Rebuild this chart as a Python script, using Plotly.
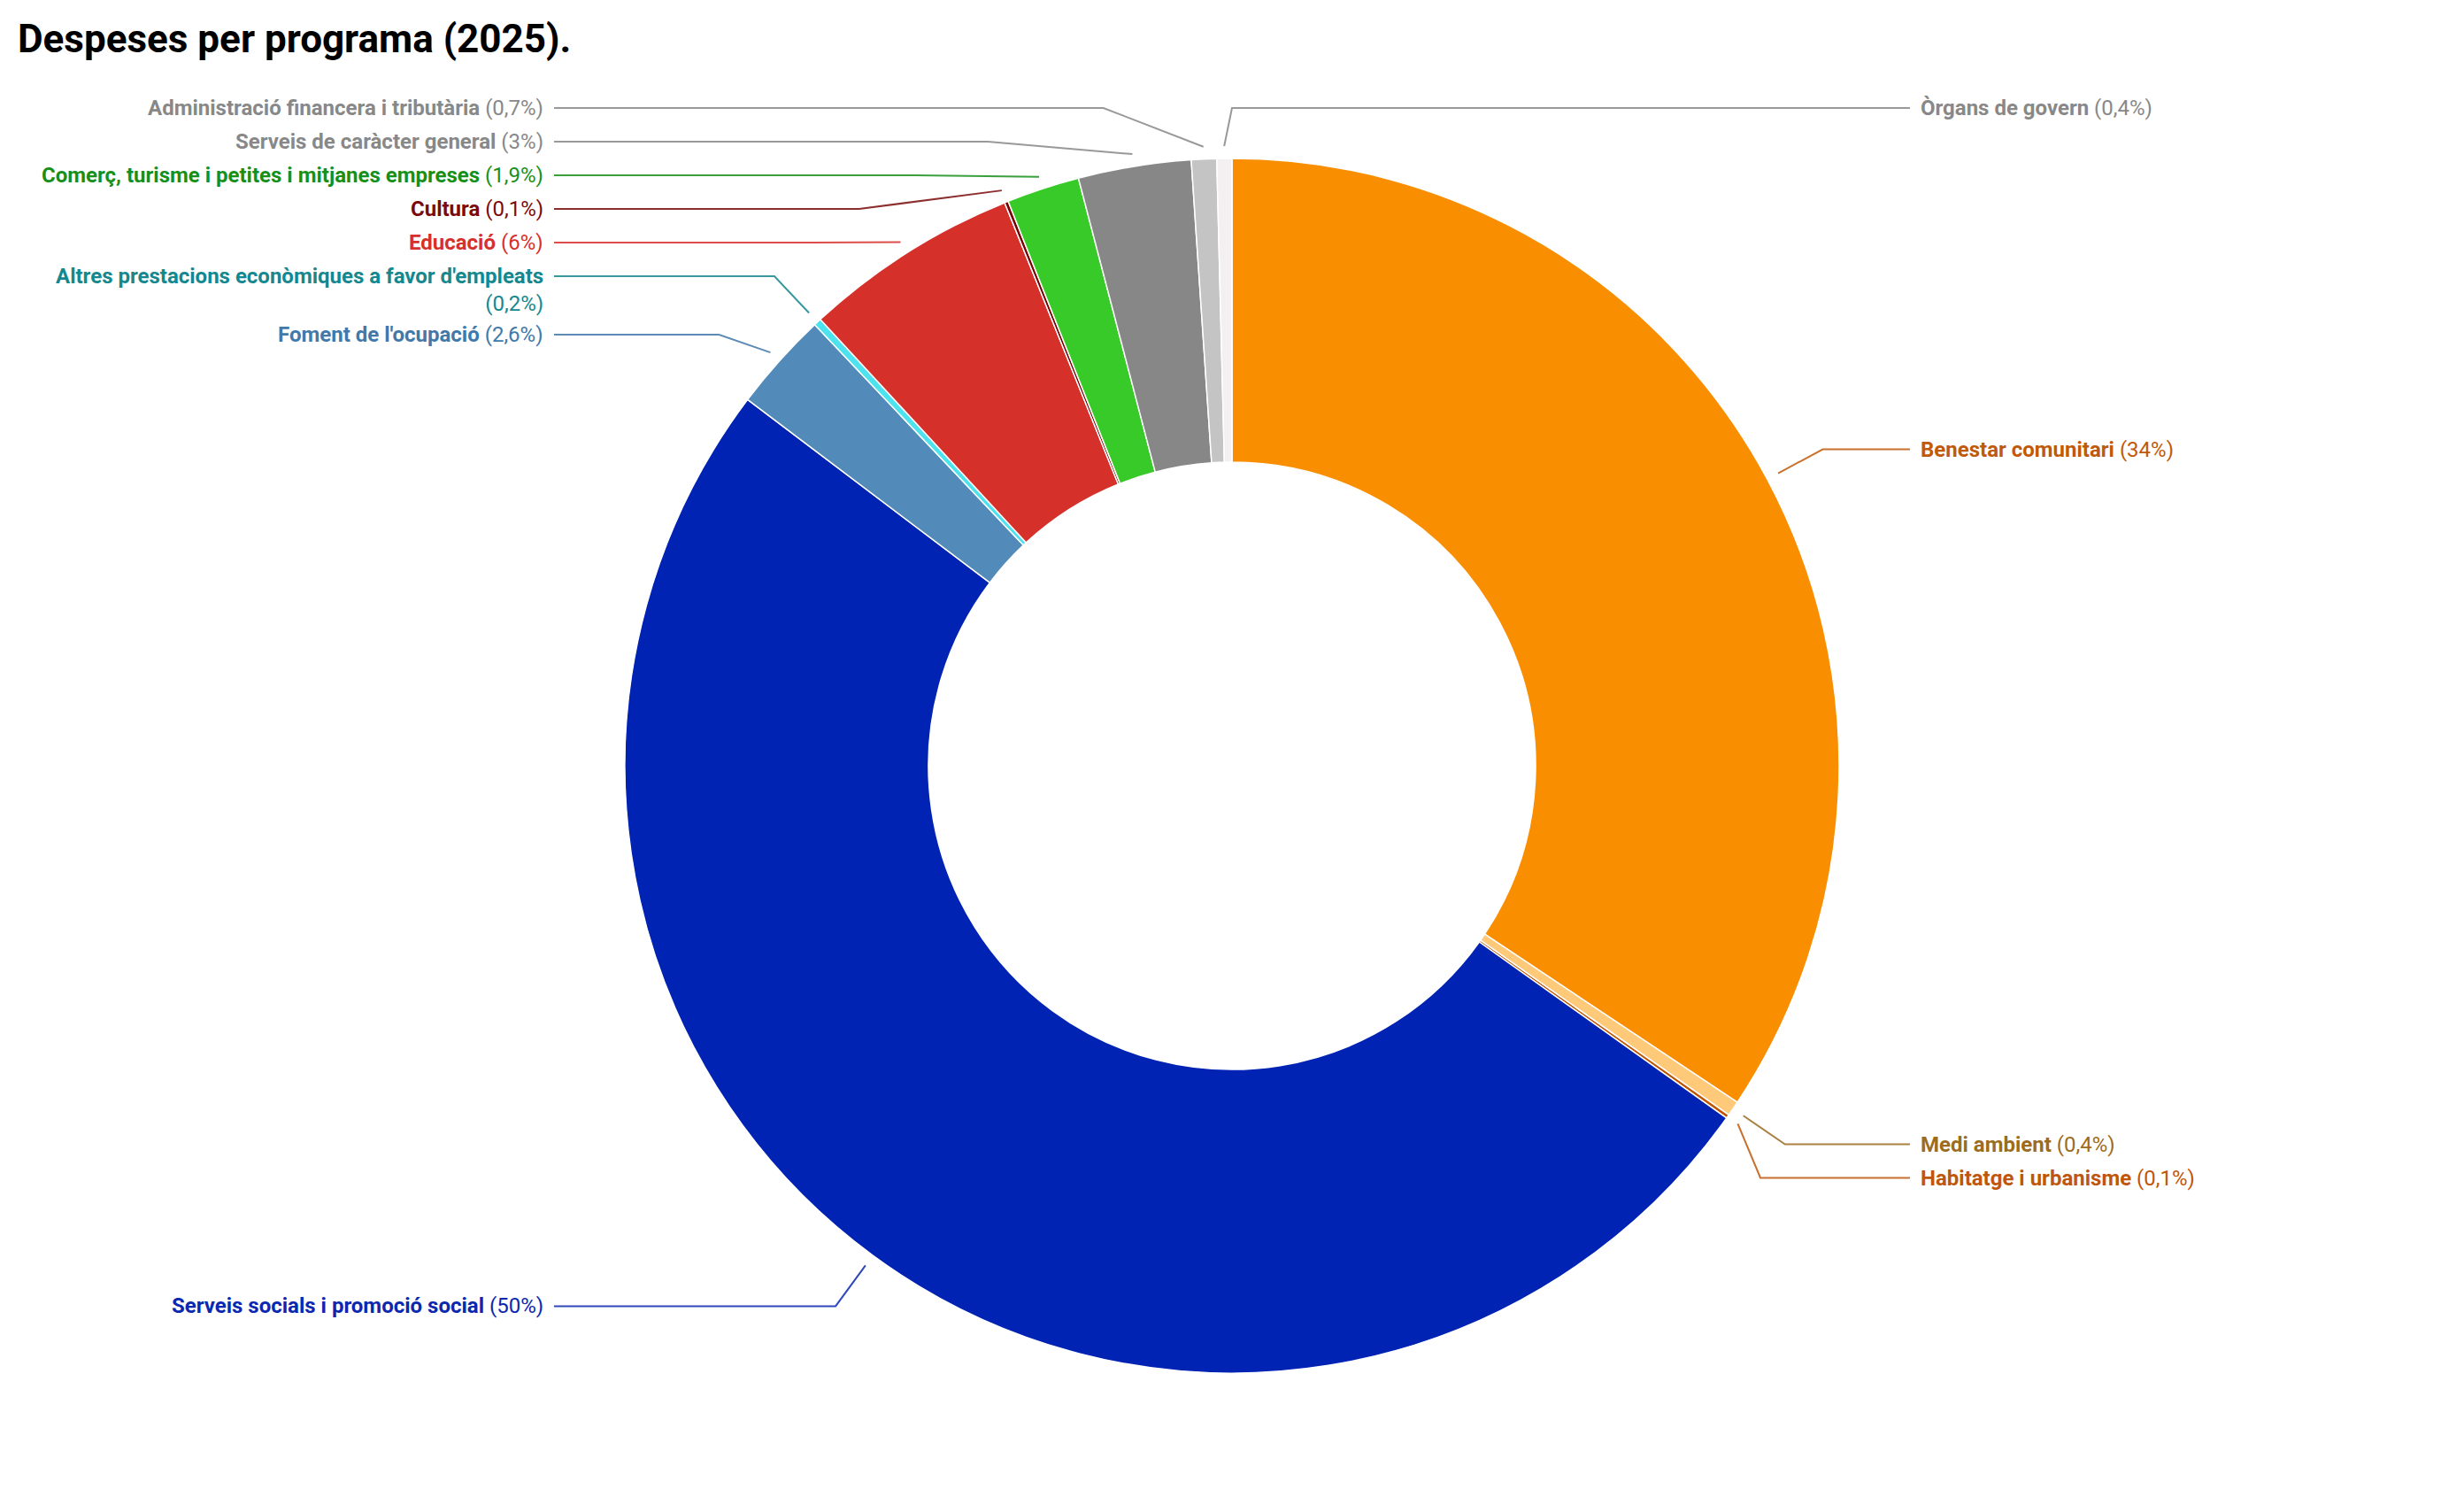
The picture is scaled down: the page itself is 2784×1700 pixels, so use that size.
import math
import plotly.graph_objects as go

# ---------------- data ----------------
title_text = "Despeses per programa (2025)."
categories = [
    "Benestar comunitari",
    "Medi ambient",
    "Habitatge i urbanisme",
    "Serveis socials i promoció social",
    "Foment de l'ocupació",
    "Altres prestacions econòmiques a favor d'empleats",
    "Educació",
    "Cultura",
    "Comerç, turisme i petites i mitjanes empreses",
    "Serveis de caràcter general",
    "Administració financera i tributària",
    "Òrgans de govern",
]
values = [34.35, 0.4, 0.1, 50.45, 2.64, 0.2, 5.75, 0.1, 1.94, 3.0, 0.67, 0.4]
slice_colors = [
    "#F98E00", "#FFC97A", "#BF5300", "#0023B4", "#528BB9", "#4CE3EE",
    "#D6302B", "#790000", "#38CA28", "#878787", "#C4C4C4", "#F4EFF0",
]
label_colors = [
    "#C0590A", "#9C6C20", "#C0560A", "#0A28B0", "#4079AA", "#15888F",
    "#D6302B", "#7A0A0A", "#17901A", "#888888", "#888888", "#888888",
]

# ---------------- layout constants (screen pixels) ----------------
W, H = 2784, 1700
PAGE_MARGIN = 8                   # default body margin of the html page
PIE_CX, PIE_CY, R = 1392, 865, 686
R0 = R + 14                       # start of leader line
RL = R * 1.1036                   # label circle
X_END = R * 1.1166                # horizontal reach of leader line
TEXT_GAP = 10
LABEL_TOP = 122
SLOT = 38
SLOT_EXTRA_LINE = 28
FONT = "Roboto"
FS = 24
LINE_H = 1.3 * FS
WRAP_CHARS = 54


def fmt_pct(p):
    s = f"{p:.0f}" if p >= 5 else f"{p:.1f}"
    if s.endswith(".0"):
        s = s[:-2]
    return s.replace(".", ",")


def px(x):
    return (x - PAGE_MARGIN) / W


def py(y):
    return 1 - (y - PAGE_MARGIN) / H


# pie domain in paper units so that the pie lands on PIE_CX, PIE_CY with radius R
cxp, cyp = px(PIE_CX), py(PIE_CY)
dom_x = [0, 2 * cxp]
dom_y = [cyp - R / H, cyp + R / H]

total = sum(values)
items = []
cum = 0.0
for i, v in enumerate(values):
    mid = (cum + v / 2) / total
    cum += v
    th = 2 * math.pi * mid
    side = 1 if math.sin(th) > -0.03 else -1
    pct = fmt_pct(v / total * 100)
    name = categories[i]
    nlines = 2 if len(name) + len(pct) + 3 > WRAP_CHARS else 1
    items.append(dict(i=i, th=th, side=side, pct=pct, name=name, nlines=nlines,
                      nat=PIE_CY - RL * math.cos(th)))

# resolve label collisions per side (push down from top bound)
for s in (1, -1):
    group = sorted([it for it in items if it["side"] == s], key=lambda d: d["nat"])
    prev_y, prev_slot = None, 0
    for it in group:
        y = max(it["nat"], LABEL_TOP)
        if prev_y is not None:
            y = max(y, prev_y + prev_slot)
        it["y"] = y
        prev_y = y
        prev_slot = SLOT + SLOT_EXTRA_LINE * (it["nlines"] - 1)

fig = go.Figure()
fig.add_trace(go.Pie(
    labels=categories,
    values=values,
    hole=0.5,
    sort=False,
    direction="clockwise",
    rotation=0,
    textinfo="none",
    hoverinfo="label+percent",
    marker=dict(colors=slice_colors, line=dict(color="white", width=1.5)),
    domain=dict(x=dom_x, y=dom_y),
    showlegend=False,
))

shapes = []
annotations = []
for it in items:
    th, s, y = it["th"], it["side"], it["y"]
    p0x, p0y = PIE_CX + R0 * math.sin(th), PIE_CY - R0 * math.cos(th)
    if s * math.sin(th) < 0:
        cx_ = PIE_CX
    else:
        dy = y - PIE_CY
        dx = math.sqrt(max(RL ** 2 - dy ** 2, 0))
        cx_ = PIE_CX + s * dx
    xe = PIE_CX + s * X_END
    path = f"M {px(p0x)},{py(p0y)} L {px(cx_)},{py(y)} L {px(xe)},{py(y)}"
    col = label_colors[it["i"]]
    shapes.append(dict(type="path", xref="paper", yref="paper", path=path,
                       line=dict(color=col, width=2), opacity=0.85, layer="above"))
    sep = "<br>" if it["nlines"] == 2 else " "
    txt = f"<b>{it['name']}</b>{sep}({it['pct']}%)"
    yc = y + (it["nlines"] - 1) * LINE_H / 2
    annotations.append(dict(
        x=px(xe + s * TEXT_GAP), y=py(yc), xref="paper", yref="paper",
        xanchor="left" if s > 0 else "right", yanchor="middle",
        align="left" if s > 0 else "right",
        text=txt, showarrow=False,
        font=dict(family=FONT, size=FS, color=col),
    ))

annotations.append(dict(
    x=px(18), y=py(44), xref="paper", yref="paper", xanchor="left", yanchor="middle",
    text=f"<b>{title_text}</b>", showarrow=False,
    font=dict(family=FONT, size=44, color="#000000"),
))

fig.update_layout(
    width=W, height=H,
    margin=dict(l=0, r=0, t=0, b=0),
    paper_bgcolor="white", plot_bgcolor="white",
    shapes=shapes, annotations=annotations,
    font=dict(family=FONT),
)

fig.write_html("out.html")
